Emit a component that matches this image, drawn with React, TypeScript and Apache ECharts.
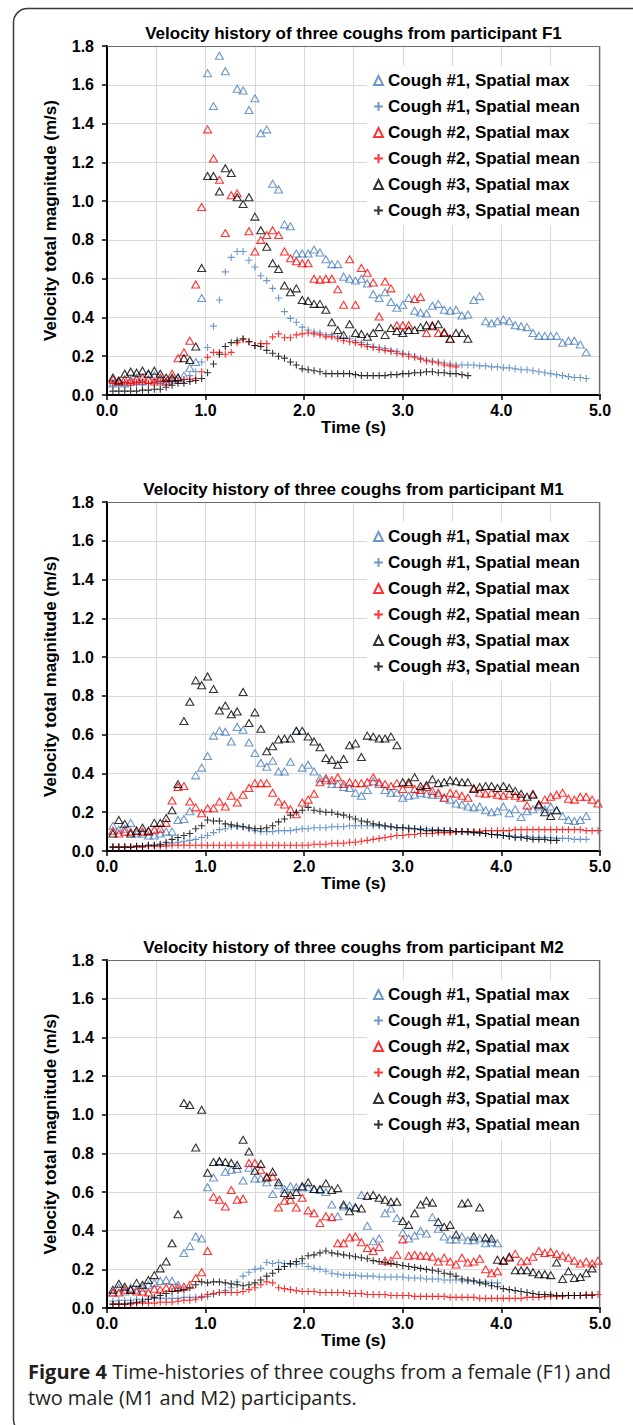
import React, { useEffect, useRef } from "react";
import * as echarts from "echarts";

const TIME = [
  0.06, 0.12, 0.18, 0.24, 0.30, 0.36, 0.42, 0.48, 0.54, 0.60,
  0.66, 0.72, 0.78, 0.84, 0.90, 0.96, 1.02, 1.08, 1.14, 1.20,
  1.26, 1.32, 1.38, 1.44, 1.50, 1.56, 1.62, 1.68, 1.74, 1.80,
  1.86, 1.92, 1.98, 2.04, 2.10, 2.16, 2.22, 2.28, 2.34, 2.40,
  2.46, 2.52, 2.58, 2.64, 2.70, 2.76, 2.82, 2.88, 2.94, 3.00,
  3.06, 3.12, 3.18, 3.24, 3.30, 3.36, 3.42, 3.48, 3.54, 3.60,
  3.66, 3.72, 3.78, 3.84, 3.90, 3.96, 4.02, 4.08, 4.14, 4.20,
  4.26, 4.32, 4.38, 4.44, 4.50, 4.56, 4.62, 4.68, 4.74, 4.80,
  4.86, 4.92, 4.98,
];

const SERIES_NAMES = [
  "Cough #1, Spatial max",
  "Cough #1, Spatial mean",
  "Cough #2, Spatial max",
  "Cough #2, Spatial mean",
  "Cough #3, Spatial max",
  "Cough #3, Spatial mean",
];

const PANEL_TITLES = [
  "Velocity history of three coughs from participant F1",
  "Velocity history of three coughs from participant M1",
  "Velocity history of three coughs from participant M2",
];

const X_TICKS = [0, 1, 2, 3, 4, 5];
const Y_TICKS = [0, 0.2, 0.4, 0.6, 0.8, 1.0, 1.2, 1.4, 1.6, 1.8];

// ---------- Participant F1 ----------
const F1_C1_MAX = [
  0.06, 0.07, 0.06, 0.08, 0.09, 0.07, 0.11, 0.10, 0.08, 0.07,
  0.08, 0.09, 0.10, 0.14, 0.17, 0.50, 1.66, 1.49, 1.75, 1.67,
  null, 1.58, 1.57, 1.47, 1.53, 1.35, 1.37, 1.09, 1.06, 0.88,
  0.87, 0.73, 0.73, 0.73, 0.75, 0.735, 0.70, 0.675, 0.675, 0.61,
  0.60, 0.59, 0.60, 0.575, 0.52, 0.50, 0.53, 0.48, 0.45, 0.465,
  0.50, 0.435, 0.425, 0.42, 0.46, 0.47, 0.44, 0.435, 0.44, 0.41,
  0.415, 0.49, 0.51, 0.38, 0.37, 0.38, 0.39, 0.38, 0.36, 0.355,
  0.35, 0.32, 0.305, 0.305, 0.305, 0.305, 0.27, 0.28, 0.28, 0.26,
  0.22,
];
const F1_C1_MEAN = [
  0.05, 0.05, 0.05, 0.05, 0.055, 0.055, 0.06, 0.06, 0.06, 0.065,
  0.07, 0.075, 0.08, 0.10, 0.12, 0.17, 0.245, 0.355, 0.49, 0.635,
  0.71, 0.74, 0.74, 0.695, 0.66, 0.615, 0.59, 0.55, 0.50, 0.43,
  0.395, 0.375, 0.35, 0.335, 0.325, 0.32, 0.31, 0.31, 0.30, 0.295,
  0.29, 0.28, 0.27, 0.26, 0.25, 0.245, 0.24, 0.23, 0.225, 0.215,
  0.21, 0.20, 0.19, 0.18, 0.175, 0.17, 0.165, 0.16, 0.155, 0.155,
  0.155, 0.155, 0.15, 0.15, 0.145, 0.145, 0.14, 0.14, 0.135, 0.13,
  0.13, 0.125, 0.12, 0.115, 0.11, 0.105, 0.10, 0.095, 0.09, 0.09,
  0.085,
];
const F1_C2_MAX = [
  0.08, 0.07, 0.08, 0.07, 0.08, 0.09, 0.08, 0.07, 0.09, 0.07,
  0.11, 0.19, 0.22, 0.28, 0.57, 0.97, 1.37, 1.22, 1.11, 0.835,
  1.03, 1.04, null, 0.845, 0.74, 0.80, 0.825, 0.85, 0.825, 0.74,
  0.705, 0.69, 0.68, 0.68, 0.60, 0.595, 0.60, 0.60, 0.545, 0.465,
  0.70, 0.465, 0.655, 0.63, 0.58, 0.405, 0.585, 0.55, 0.36, 0.36,
  0.36, 0.495, 0.505, 0.32, 0.36, 0.32, 0.325, 0.29,
];
const F1_C2_MEAN = [
  0.06, 0.06, 0.065, 0.06, 0.065, 0.065, 0.06, 0.065, 0.07, 0.07,
  0.07, 0.075, 0.08, 0.08, 0.085, 0.12, 0.195, 0.22, 0.22, 0.21,
  0.22, 0.27, 0.285, 0.275, 0.255, 0.265, 0.265, 0.30, 0.315, 0.295,
  0.295, 0.31, 0.315, 0.32, 0.315, 0.31, 0.30, 0.30, 0.29, 0.28,
  0.275, 0.27, 0.26, 0.25, 0.245, 0.235, 0.23, 0.225, 0.215, 0.21,
  0.20, 0.195, 0.185, 0.175, 0.17, 0.165, 0.155, 0.15, 0.145,
];
const F1_C3_MAX = [
  0.09, 0.075, 0.11, 0.12, 0.115, 0.125, 0.11, 0.125, 0.11, 0.09,
  0.09, 0.09, 0.19, 0.18, 0.25, 0.655, 1.13, 1.13, 1.05, 1.17,
  1.145, 1.02, 0.985, 1.02, 0.92, 0.85, 0.765, 0.68, 0.65, 0.565,
  0.53, 0.55, 0.49, 0.485, 0.47, 0.47, 0.44, 0.375, 0.335, 0.31,
  0.365, 0.32, 0.315, 0.30, 0.32, 0.35, 0.31, 0.345, 0.33, 0.32,
  0.335, 0.335, 0.35, 0.36, 0.355, 0.365, 0.32, 0.29, 0.32, 0.32,
  0.29,
];
const F1_C3_MEAN = [
  0.02, 0.02, 0.02, 0.02, 0.02, 0.025, 0.025, 0.03, 0.03, 0.04,
  0.05, 0.06, 0.06, 0.07, 0.075, 0.085, 0.115, 0.16, 0.21, 0.25,
  0.27, 0.28, 0.29, 0.275, 0.255, 0.25, 0.23, 0.215, 0.20, 0.19,
  0.17, 0.155, 0.135, 0.13, 0.125, 0.12, 0.11, 0.11, 0.11, 0.11,
  0.11, 0.105, 0.10, 0.10, 0.10, 0.10, 0.10, 0.105, 0.105, 0.11,
  0.11, 0.115, 0.115, 0.12, 0.12, 0.115, 0.115, 0.11, 0.11, 0.105,
  0.10,
];

// ---------- Participant M1 ----------
const M1_C1_MAX = [
  0.13, 0.11, 0.115, 0.145, 0.09, 0.09, 0.08, 0.08, 0.09, 0.10,
  0.10, 0.16, 0.165, 0.205, 0.39, 0.43, 0.49, 0.595, 0.62, 0.615,
  0.565, 0.64, 0.625, 0.56, 0.505, 0.455, 0.435, 0.465, 0.41, 0.41,
  0.46, 0.62, 0.43, 0.445, 0.41, 0.375, 0.365, 0.345, 0.345, 0.33,
  0.325, 0.30, 0.285, 0.315, 0.36, 0.345, 0.315, 0.30, 0.30, 0.275,
  0.285, 0.29, 0.30, 0.295, 0.29, 0.29, 0.275, 0.265, 0.245, 0.24,
  0.23, 0.225, 0.23, 0.21, 0.20, 0.205, 0.23, 0.195, 0.215, 0.175,
  0.205, 0.215, 0.23, 0.215, 0.23, 0.21, 0.18, 0.16, 0.155, 0.16,
  0.18,
];
const M1_C1_MEAN = [
  0.02, 0.02, 0.02, 0.02, 0.025, 0.025, 0.03, 0.03, 0.03, 0.035,
  0.04, 0.045, 0.05, 0.055, 0.06, 0.07, 0.08, 0.095, 0.11, 0.115,
  0.125, 0.125, 0.125, 0.115, 0.105, 0.10, 0.10, 0.10, 0.105, 0.105,
  0.105, 0.11, 0.115, 0.115, 0.12, 0.12, 0.12, 0.125, 0.125, 0.125,
  0.13, 0.13, 0.13, 0.13, 0.13, 0.13, 0.125, 0.125, 0.12, 0.12,
  0.12, 0.115, 0.115, 0.115, 0.11, 0.11, 0.105, 0.105, 0.10, 0.10,
  0.095, 0.095, 0.09, 0.09, 0.085, 0.08, 0.08, 0.08, 0.075, 0.075,
  0.075, 0.07, 0.07, 0.07, 0.07, 0.065, 0.065, 0.065, 0.06, 0.06,
  0.06,
];
const M1_C2_MAX = [
  0.105, 0.09, 0.10, 0.10, 0.105, 0.10, 0.10, 0.11, 0.115, 0.145,
  0.26, 0.33, 0.335, 0.255, 0.225, 0.195, 0.22, 0.22, 0.255, 0.23,
  0.285, 0.25, 0.29, 0.325, 0.35, 0.35, 0.35, 0.30, 0.255, 0.24,
  0.215, 0.19, 0.25, 0.265, 0.295, 0.355, 0.375, 0.365, 0.38, 0.345,
  0.355, 0.35, 0.35, 0.355, 0.38, 0.355, 0.345, 0.335, 0.35, 0.32,
  0.345, 0.32, 0.315, 0.33, 0.31, 0.30, 0.275, 0.30, 0.295, 0.285,
  0.275, 0.325, 0.30, 0.295, 0.30, 0.29, 0.285, 0.295, 0.285, 0.275,
  0.235, 0.295, 0.24, 0.265, 0.28, 0.29, 0.30, 0.27, 0.265, 0.28,
  0.28, 0.265, 0.245,
];
const M1_C2_MEAN = [
  0.02, 0.02, 0.02, 0.02, 0.02, 0.02, 0.025, 0.025, 0.025, 0.025,
  0.03, 0.03, 0.03, 0.03, 0.03, 0.03, 0.03, 0.03, 0.03, 0.03,
  0.03, 0.03, 0.03, 0.03, 0.03, 0.03, 0.03, 0.03, 0.03, 0.03,
  0.03, 0.03, 0.03, 0.03, 0.035, 0.035, 0.035, 0.04, 0.04, 0.04,
  0.045, 0.045, 0.05, 0.055, 0.06, 0.065, 0.07, 0.075, 0.08, 0.08,
  0.085, 0.085, 0.09, 0.09, 0.09, 0.095, 0.095, 0.095, 0.10, 0.10,
  0.10, 0.10, 0.10, 0.105, 0.105, 0.105, 0.105, 0.105, 0.11, 0.11,
  0.11, 0.11, 0.11, 0.11, 0.11, 0.11, 0.11, 0.11, 0.11, 0.11,
  0.105, 0.105, 0.105,
];
const M1_C3_MAX = [
  0.09, 0.16, 0.14, 0.09, 0.105, 0.12, 0.105, 0.145, 0.145, 0.17,
  0.21, 0.345, 0.67, 0.77, 0.88, 0.855, 0.90, 0.835, 0.725, 0.75,
  0.705, 0.72, 0.82, 0.66, 0.715, 0.63, 0.515, 0.54, 0.575, 0.58,
  0.58, 0.62, 0.62, 0.59, 0.565, 0.535, 0.48, 0.47, 0.445, 0.475,
  0.545, 0.555, 0.485, 0.595, 0.59, 0.58, 0.58, 0.59, 0.545, 0.355,
  0.355, 0.38, 0.335, 0.34, 0.37, 0.35, 0.355, 0.365, 0.36, 0.355,
  0.355, 0.32, 0.33, 0.335, 0.335, 0.325, 0.335, 0.325, 0.31, 0.295,
  0.28, 0.29, 0.24, 0.20, 0.18, 0.21,
];
const M1_C3_MEAN = [
  0.02, 0.02, 0.02, 0.02, 0.025, 0.025, 0.03, 0.03, 0.035, 0.045,
  0.06, 0.07, 0.08, 0.09, 0.115, 0.13, 0.16, 0.155, 0.155, 0.14,
  0.135, 0.13, 0.125, 0.12, 0.115, 0.115, 0.12, 0.13, 0.15, 0.165,
  0.185, 0.20, 0.21, 0.225, 0.21, 0.205, 0.20, 0.20, 0.19, 0.185,
  0.175, 0.165, 0.155, 0.15, 0.14, 0.135, 0.13, 0.125, 0.12, 0.12,
  0.115, 0.115, 0.11, 0.105, 0.105, 0.105, 0.105, 0.105, 0.10, 0.10,
  0.10, 0.095, 0.095, 0.09, 0.085, 0.085, 0.08, 0.075, 0.07, 0.07,
  0.065, 0.06, 0.06, 0.06, 0.055, 0.055,
];

// ---------- Participant M2 ----------
const M2_C1_MAX = [
  0.08, 0.105, 0.085, 0.105, 0.095, 0.105, 0.12, 0.13, 0.14, 0.145,
  0.14, 0.12, 0.285, 0.32, 0.37, 0.36, 0.625, 0.675, 0.755, 0.705,
  0.715, 0.72, 0.66, 0.725, 0.67, 0.67, 0.65, 0.59, 0.635, 0.615,
  0.63, 0.625, 0.625, 0.625, 0.615, 0.61, 0.60, 0.535, 0.475, 0.525,
  0.53, 0.52, 0.585, 0.425, 0.345, 0.36, 0.49, 0.515, 0.465, 0.39,
  0.36, 0.375, 0.40, 0.385, 0.47, 0.41, 0.37, 0.355, 0.355, 0.37,
  0.35, 0.35, 0.36, 0.335, 0.34, 0.335,
];
const M2_C1_MEAN = [
  0.035, 0.04, 0.04, 0.04, 0.045, 0.045, 0.045, 0.05, 0.05, 0.05,
  0.05, 0.05, 0.055, 0.055, 0.055, 0.06, 0.06, 0.07, 0.08, 0.09,
  0.105, 0.135, 0.165, 0.185, 0.20, 0.205, 0.235, 0.23, 0.235, 0.23,
  0.225, 0.225, 0.23, 0.215, 0.205, 0.20, 0.19, 0.18, 0.175, 0.17,
  0.17, 0.17, 0.165, 0.165, 0.165, 0.16, 0.16, 0.16, 0.16, 0.16,
  0.155, 0.155, 0.155, 0.15, 0.15, 0.15, 0.145, 0.145, 0.145, 0.14,
  0.14, 0.14, 0.135, 0.135, 0.13, 0.13,
];
const M2_C2_MAX = [
  0.08, 0.08, 0.095, 0.095, 0.085, 0.085, 0.08, 0.10, 0.095, 0.105,
  0.105, 0.105, 0.11, 0.12, 0.155, 0.185, 0.295, 0.575, 0.56, 0.525,
  0.61, 0.56, 0.565, 0.75, 0.75, 0.715, 0.68, 0.68, 0.52, 0.555,
  0.56, 0.52, 0.57, 0.505, 0.49, 0.44, 0.475, 0.47, 0.335, 0.335,
  0.365, 0.37, 0.34, 0.31, 0.295, 0.315, 0.245, 0.245, 0.275, 0.355,
  0.27, 0.275, 0.27, 0.27, 0.265, 0.24, 0.26, 0.24, 0.225, 0.26,
  0.235, 0.24, 0.255, 0.20, 0.18, 0.19, 0.245, 0.26, 0.28, 0.24,
  0.245, 0.265, 0.295, 0.285, 0.29, 0.28, 0.27, 0.26, 0.245, 0.23,
  0.24, 0.23, 0.245,
];
const M2_C2_MEAN = [
  0.02, 0.02, 0.02, 0.02, 0.025, 0.025, 0.025, 0.025, 0.03, 0.03,
  0.03, 0.035, 0.04, 0.04, 0.045, 0.055, 0.07, 0.075, 0.08, 0.08,
  0.08, 0.08, 0.085, 0.095, 0.105, 0.12, 0.135, 0.13, 0.105, 0.10,
  0.095, 0.09, 0.085, 0.085, 0.085, 0.08, 0.08, 0.08, 0.08, 0.08,
  0.075, 0.075, 0.075, 0.07, 0.07, 0.07, 0.07, 0.065, 0.065, 0.065,
  0.065, 0.06, 0.06, 0.06, 0.06, 0.06, 0.06, 0.055, 0.055, 0.055,
  0.055, 0.055, 0.05, 0.05, 0.05, 0.05, 0.05, 0.05, 0.05, 0.05,
  0.055, 0.055, 0.055, 0.06, 0.06, 0.06, 0.06, 0.065, 0.065, 0.065,
  0.07, 0.07, 0.07,
];
const M2_C3_MAX = [
  0.095, 0.125, 0.11, 0.095, 0.13, 0.12, 0.145, 0.17, 0.205, 0.24,
  0.335, 0.485, 1.06, 1.05, 0.83, 1.025, 0.70, 0.755, 0.76, 0.755,
  0.75, 0.74, 0.87, 0.81, 0.71, 0.745, 0.675, 0.705, 0.65, 0.595,
  0.585, 0.60, 0.63, 0.65, 0.615, 0.615, 0.645, 0.61, 0.62, 0.535,
  0.50, 0.52, 0.515, 0.58, 0.585, 0.57, 0.56, 0.55, 0.55, 0.45,
  0.43, 0.49, 0.535, 0.555, 0.545, 0.445, 0.42, 0.43, 0.38, 0.54,
  0.545, 0.37, 0.52, 0.365, 0.36, 0.25, 0.245, 0.265, 0.195, 0.195,
  0.195, 0.185, 0.175, 0.175, 0.17, 0.235, 0.15, 0.19, 0.155, 0.16,
  0.18, 0.205,
];
const M2_C3_MEAN = [
  0.02, 0.02, 0.02, 0.025, 0.03, 0.035, 0.045, 0.055, 0.065, 0.075,
  0.085, 0.09, 0.095, 0.105, 0.12, 0.135, 0.13, 0.135, 0.135, 0.13,
  0.125, 0.12, 0.115, 0.12, 0.13, 0.145, 0.165, 0.18, 0.20, 0.215,
  0.23, 0.24, 0.255, 0.27, 0.275, 0.285, 0.295, 0.285, 0.28, 0.275,
  0.27, 0.265, 0.26, 0.255, 0.245, 0.24, 0.235, 0.23, 0.225, 0.22,
  0.215, 0.21, 0.205, 0.20, 0.195, 0.19, 0.18, 0.175, 0.165, 0.15,
  0.145, 0.14, 0.13, 0.125, 0.115, 0.11, 0.10, 0.095, 0.09, 0.085,
  0.08, 0.075, 0.07, 0.07, 0.068, 0.065, 0.065, 0.065, 0.065, 0.065,
  0.065, 0.065,
];

const PANELS = [
  [F1_C1_MAX, F1_C1_MEAN, F1_C2_MAX, F1_C2_MEAN, F1_C3_MAX, F1_C3_MEAN],
  [M1_C1_MAX, M1_C1_MEAN, M1_C2_MAX, M1_C2_MEAN, M1_C3_MAX, M1_C3_MEAN],
  [M2_C1_MAX, M2_C1_MEAN, M2_C2_MAX, M2_C2_MEAN, M2_C3_MAX, M2_C3_MEAN],
];

const CAPTION_LINE1 = "{b|Figure 4} Time-histories of three coughs from a female (F1) and";
const CAPTION_LINE2 = "two male (M1 and M2) participants.";

const COLORS = ["#4a7ebb", "#4a7ebb", "#ff0000", "#ff0000", "#000000", "#000000"];
const FONT = '"Liberation Sans", Arial, Helvetica, sans-serif';
const CAP_FONT = '"Open Sans", "Noto Sans", sans-serif';
const PLUS = "path://M5,0L5,10M0,5L10,5";

const GRID_LEFT = 107;
const GRID_WIDTH = 493;
const GRID_BOXES = [
  { top: 46, height: 349 },
  { top: 502, height: 349 },
  { top: 960, height: 348 },
];

function buildOption() {
  const grids: any[] = [];
  const xAxes: any[] = [];
  const yAxes: any[] = [];
  const legends: any[] = [];
  const series: any[] = [];
  const graphics: any[] = [];

  graphics.push({
    type: "rect",
    silent: true,
    z: -10,
    shape: { x: 13.5, y: 8.5, width: 700, height: 1425, r: 14 },
    style: { fill: "none", stroke: "#3a3a3a", lineWidth: 1.5 },
  });

  GRID_BOXES.forEach((g, i) => {
    grids.push({ left: GRID_LEFT, top: g.top, width: GRID_WIDTH, height: g.height, containLabel: false });
    xAxes.push({
      type: "value",
      gridIndex: i,
      min: X_TICKS[0],
      max: X_TICKS[X_TICKS.length - 1],
      interval: 1,
      axisLine: { show: true, onZero: false, lineStyle: { color: "#000", width: 2 } },
      axisTick: { show: true, inside: false, length: 5, lineStyle: { color: "#000", width: 1.5 } },
      axisLabel: {
        margin: 7,
        fontFamily: FONT,
        fontSize: 16,
        fontWeight: "bold",
        color: "#000",
        formatter: (v: number) => v.toFixed(1),
      },
      splitLine: { show: true, lineStyle: { color: "#d9d9d9", width: 1 } },
      minorTick: { show: false, splitNumber: 2 },
      minorSplitLine: { show: true, lineStyle: { color: "#d9d9d9", width: 1 } },
      name: "Time (s)",
      nameLocation: "middle",
      nameGap: 20,
      nameTextStyle: { fontFamily: FONT, fontSize: 17, fontWeight: "bold", color: "#000" },
    });
    yAxes.push({
      type: "value",
      gridIndex: i,
      min: Y_TICKS[0],
      max: Y_TICKS[Y_TICKS.length - 1],
      interval: 0.2,
      axisLine: { show: true, onZero: false, lineStyle: { color: "#000", width: 2 } },
      axisTick: { show: true, inside: false, length: 5, lineStyle: { color: "#000", width: 1.5 } },
      axisLabel: {
        margin: 13,
        fontFamily: FONT,
        fontSize: 16,
        fontWeight: "bold",
        color: "#000",
        formatter: (v: number) => v.toFixed(1),
      },
      splitLine: { show: true, lineStyle: { color: "#d9d9d9", width: 1 } },
      name: "Velocity total magnitude (m/s)",
      nameLocation: "middle",
      nameGap: 48,
      nameTextStyle: { fontFamily: FONT, fontSize: 17, fontWeight: "bold", color: "#000" },
    });
    legends.push({
      orient: "vertical",
      left: 367,
      top: g.top + 20,
      backgroundColor: "#ffffff",
      padding: [6, 8, 6, 6],
      itemGap: 9,
      itemWidth: 9,
      itemHeight: 9,
      selectedMode: false,
      textStyle: { fontFamily: FONT, fontSize: 17, fontWeight: "bold", color: "#000", lineHeight: 17 },
      data: SERIES_NAMES,
    });

    PANELS[i].forEach((vals, s) => {
      const isMax = s % 2 === 0;
      const data: number[][] = [];
      vals.forEach((v, k) => {
        if (v !== null && v !== undefined) data.push([TIME[k], v as number]);
      });
      series.push({
        type: "scatter",
        name: SERIES_NAMES[s],
        xAxisIndex: i,
        yAxisIndex: i,
        symbol: isMax ? "triangle" : PLUS,
        symbolSize: isMax ? [8, 7] : 7,
        itemStyle: { color: "rgba(0,0,0,0)", borderColor: COLORS[s], borderWidth: 1.1 },
        emphasis: { disabled: true },
        silent: true,
        data,
      });
    });

    graphics.push({
      type: "polyline",
      silent: true,
      z: 5,
      shape: {
        points: [
          [GRID_LEFT, g.top + 0.5],
          [GRID_LEFT + GRID_WIDTH - 0.5, g.top + 0.5],
          [GRID_LEFT + GRID_WIDTH - 0.5, g.top + g.height],
        ],
      },
      style: { stroke: "#6b6b6b", lineWidth: 1.2, fill: "none" },
    });
    graphics.push({
      type: "text",
      silent: true,
      x: GRID_LEFT + GRID_WIDTH / 2,
      y: g.top - 13,
      style: {
        text: PANEL_TITLES[i],
        fontFamily: FONT,
        fontSize: 17,
        fontWeight: "bold",
        fill: "#000",
        align: "center",
        verticalAlign: "middle",
      },
    });
  });

  graphics.push({
    type: "text",
    silent: true,
    x: 28,
    y: 1371,
    style: {
      text: CAPTION_LINE1,
      fontFamily: CAP_FONT,
      fontSize: 20,
      fill: "#231f20",
      verticalAlign: "middle",
      rich: { b: { fontFamily: CAP_FONT, fontSize: 20, fontWeight: "bold", fill: "#231f20" } },
    },
  });
  graphics.push({
    type: "text",
    silent: true,
    x: 28,
    y: 1397,
    style: {
      text: CAPTION_LINE2,
      fontFamily: CAP_FONT,
      fontSize: 20,
      fill: "#231f20",
      verticalAlign: "middle",
    },
  });

  return {
    animation: false,
    backgroundColor: "#ffffff",
    grid: grids,
    xAxis: xAxes,
    yAxis: yAxes,
    legend: legends,
    series,
    graphic: graphics,
  };
}

export default function App() {
  const ref = useRef<HTMLDivElement>(null);
  useEffect(() => {
    if (!ref.current) return;
    const chart = echarts.init(ref.current, null, { renderer: "svg" });
    chart.setOption(buildOption() as any);
    return () => chart.dispose();
  }, []);
  return (
    <div
      ref={ref}
      style={{ position: "absolute", left: 0, top: 0, width: 633, height: 1425 }}
    />
  );
}
